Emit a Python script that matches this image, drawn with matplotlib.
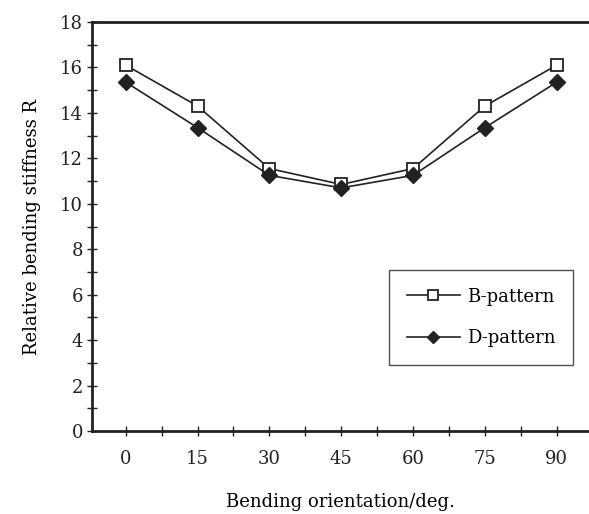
import matplotlib.pyplot as plt
from matplotlib.ticker import MultipleLocator

# data
orientation = ['0', '15', '30', '45', '60', '75', '90']
b_pattern = [16.1, 14.3, 11.55, 10.85, 11.55, 14.3, 16.1]
d_pattern = [15.35, 13.35, 11.25, 10.7, 11.25, 13.35, 15.35]

plt.rcParams['font.family'] = 'DejaVu Serif'

fig = plt.figure(figsize=(5.89, 5.14), dpi=100)
ax = fig.add_axes([92 / 589, 1 - 431 / 514, 1 - 92 / 589, (431 - 22) / 514])

x = list(range(len(orientation)))
ax.plot(x, b_pattern, color='#222222', lw=1.2, marker='s', ms=9,
        mfc='white', mec='#222222', mew=1.3, label='B-pattern')
ax.plot(x, d_pattern, color='#222222', lw=1.2, marker='D', ms=8,
        mfc='#222222', mec='#222222', label='D-pattern')

ax.set_xlim(-0.47, 6.45)
ax.set_ylim(0, 18)
ax.set_xticks(x)
ax.set_xticklabels(orientation)
ax.xaxis.set_minor_locator(MultipleLocator(0.5))
ax.yaxis.set_major_locator(MultipleLocator(2))
ax.yaxis.set_minor_locator(MultipleLocator(1))

ax.tick_params(which='both', direction='inout', width=1.0, colors='#222222',
               labelsize=13, length=7, pad=3)
ax.tick_params(axis='x', pad=10)

for s in ['left', 'bottom', 'top']:
    ax.spines[s].set_linewidth(2.0)
    ax.spines[s].set_color('#222222')
ax.spines['right'].set_visible(False)

ax.set_xlabel('Bending orientation/deg.', fontsize=13, labelpad=18)
ax.set_ylabel('Relative bending stiffness R', fontsize=13, labelpad=14)

leg = ax.legend(loc='lower left', bbox_to_anchor=(0.598, 0.161), fontsize=13,
                frameon=True, fancybox=False, edgecolor='#222222',
                handlelength=2.9, handletextpad=0.4, labelspacing=1.3,
                borderpad=1.0, markerscale=0.8, borderaxespad=0)
leg.get_frame().set_linewidth(1.0)

plt.savefig('out.png', dpi=100)
